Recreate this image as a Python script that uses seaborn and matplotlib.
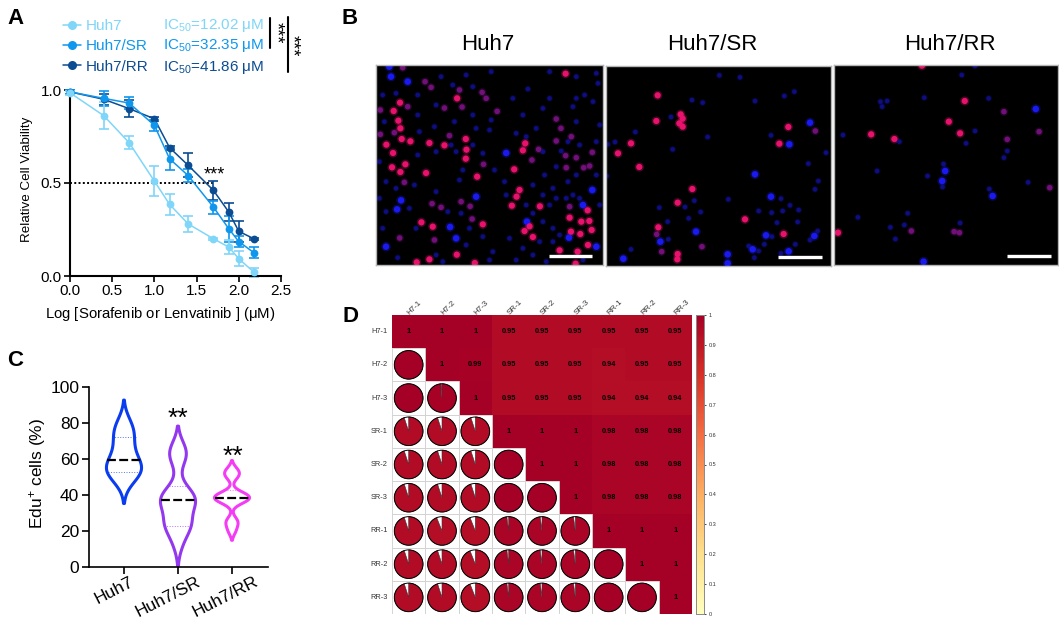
import numpy as np
import pandas as pd
import matplotlib
matplotlib.use("Agg")
import matplotlib.pyplot as plt
import seaborn as sns
from matplotlib.colors import LinearSegmentedColormap
from matplotlib.lines import Line2D
from matplotlib.patches import Wedge, Circle, Rectangle

W, H = 1059, 621
BLACK = "#000000"  # seaborn remaps "k" to a dark grey

# panel A
LINES = ["Huh7", "Huh7/SR", "Huh7/RR"]
COLORS_A = {"Huh7": "#7fd6f8", "Huh7/SR": "#0f97ee", "Huh7/RR": "#0b4c92"}
IC50 = ["12.02", "32.35", "41.86"]
log_dose = [0, 0.4, 0.7, 1.0, 1.18, 1.4, 1.7, 1.88, 2.0, 2.18]
via_huh7 = [0.985, 0.862, 0.717, 0.51, 0.385, 0.28, 0.20, 0.156, 0.093, 0.02]
via_sr = [0.99, 0.955, 0.93, 0.81, 0.63, 0.54, 0.37, 0.255, 0.185, 0.125]
via_rr = [0.99, 0.95, 0.90, 0.845, 0.69, 0.595, 0.46, 0.345, 0.24, 0.20]
err_huh7 = [0.01, 0.074, 0.035, 0.08, 0.055, 0.045, 0.005, 0.04, 0.04, 0.025]
err_sr = [0.01, 0.04, 0.03, 0.03, 0.06, 0.035, 0.035, 0.07, 0.03, 0.03]
err_rr = [0.01, 0.03, 0.045, 0.01, 0.01, 0.065, 0.05, 0.05, 0.055, 0.005]

# panel C
COLORS_C = {"Huh7": "#0a3cf0", "Huh7/SR": "#9438f0", "Huh7/RR": "#f53cf5"}
edu_huh7 = [47, 50, 52, 53, 54, 55, 56, 58, 60, 63, 66, 70, 73, 75, 78, 81]
edu_sr = [13, 21, 23, 25, 26, 35, 36, 37, 38, 39, 44, 60, 63, 66]
edu_rr = [20, 24, 26, 36, 37, 38, 38.5, 39, 40, 41, 50, 52, 54]
edu_bw = [0.55, 0.38, 0.25]
edu_median = [59.5, 37, 38.5]
edu_q1 = [53, 23, 33]
edu_q3 = [72, 45, 43]

# panel B, cell positions
CELLS = ["pink", "purple", "bright", "dim"]
CELL_COLORS = {"pink": "#e8126c", "purple": "#701078", "bright": "#1a1af0", "dim": "#0e0e80"}
CELL_SIZES = {"pink": 20, "purple": 16, "bright": 22, "dim": 11}
huh7_pink = [(72,113),(53,138),(67,167),(73,190),(77,222),(31,239),(103,229),(51,264),(88,298),(73,321),(48,307),(160,234),(150,324),(269,222),(271,254),(269,281),(205,241),(243,100),(303,335),(447,235),(440,256),(414,313),(430,375),(421,395),(407,422),(491,424),(136,472),(170,485),(568,26),(634,436),(639,468),(615,470),(580,458),(646,495),(460,484),(445,498),(470,516),(612,507),(584,500),(550,556),(604,560),(635,540),(122,592),(242,569),(296,594),(598,596),(160,583),(320,478)]
huh7_purple = [(80,8),(147,50),(165,67),(250,75),(258,126),(205,129),(95,125),(13,135),(13,208),(55,203),(318,82),(330,100),(363,139),(540,162),(554,190),(585,215),(540,228),(648,262),(568,272),(570,308),(622,308),(640,303),(467,285),(168,416),(195,427),(255,410),(282,424),(288,462),(71,519),(175,525),(322,298),(85,352),(220,212),(600,278),(487,253),(580,425)]
huh7_bright = [(40,5),(45,35),(390,264),(75,406),(63,433),(222,486),(300,395),(620,420),(648,375),(660,545),(578,518),(240,520),(452,470),(95,50),(30,545)]
huh7_dim = [(125,90),(60,85),(195,35),(230,60),(290,65),(270,30),(345,20),(410,100),(455,72),(520,20),(600,35),(660,25),(625,90),(520,100),(600,100),(665,55),(650,110),(590,125),(125,150),(180,120),(290,150),(340,195),(345,165),(440,150),(500,130),(480,190),(670,180),(600,170),(130,200),(175,185),(235,170),(300,190),(20,90),(25,170),(10,290),(125,270),(180,260),(240,260),(225,240),(290,240),(320,265),(420,205),(450,215),(500,260),(555,258),(575,230),(610,240),(660,230),(30,350),(60,370),(115,360),(180,380),(250,345),(355,315),(385,350),(260,315),(505,330),(540,305),(660,330),(600,330),(575,350),(530,370),(470,360),(390,390),(500,390),(520,420),(540,400),(570,400),(590,390),(610,400),(670,420),(450,420),(470,445),(500,470),(530,490),(550,510),(530,530),(490,530),(440,550),(400,520),(350,560),(320,515),(280,490),(255,445),(215,440),(120,490),(100,430),(30,440),(10,400),(20,490),(65,578),(180,570),(200,590),(270,540),(340,585),(420,585),(470,570),(510,590),(620,585)]
sr_pink = [(155,88),(151,165),(224,145),(230,158),(220,172),(230,182),(75,232),(36,262),(100,303),(259,369),(215,410),(157,484),(215,564),(214,580),(417,460),(533,504),(547,183),(520,233)]
sr_purple = [(152,505),(167,557),(288,542),(628,195)]
sr_bright = [(612,170),(550,235),(447,325),(163,527),(270,497),(365,565),(365,592),(548,556),(52,578),(495,392),(480,508),(440,550),(625,510)]
sr_dim = [(340,28),(402,34),(258,102),(290,110),(447,105),(535,90),(565,77),(195,153),(88,198),(27,228),(5,235),(305,213),(200,250),(495,208),(660,260),(607,293),(2,330),(637,345),(627,370),(367,400),(265,404),(160,425),(237,423),(284,438),(248,457),(185,467),(187,520),(75,550),(458,435),(525,398),(552,418),(530,435),(497,440),(578,432),(575,468),(513,470),(498,512),(475,535),(428,540),(458,555),(445,575),(525,562),(568,535),(612,522),(635,495)]
rr_pink = [(112,208),(182,222),(346,170),(380,205),(394,108),(12,503),(265,2)]
rr_purple = [(512,140),(522,223),(233,498),(362,500),(378,503),(618,200),(650,368)]
rr_bright = [(335,318),(326,348),(608,132),(478,393),(270,590)]
rr_dim = [(140,110),(160,108),(145,125),(272,98),(466,100),(385,30),(425,3),(27,210),(197,230),(398,235),(425,198),(522,258),(512,278),(330,297),(130,318),(282,333),(327,366),(468,372),(72,457),(222,445),(212,480),(170,487),(185,522),(380,474),(585,352)]

# panel D
SAMPLES = ["H7-1", "H7-2", "H7-3", "SR-1", "SR-2", "SR-3", "RR-1", "RR-2", "RR-3"]
corr_rows = [
    [1, 1, 1, 0.95, 0.95, 0.95, 0.95, 0.95, 0.95],
    [1, 1, 0.99, 0.95, 0.95, 0.95, 0.94, 0.95, 0.95],
    [1, 0.99, 1, 0.95, 0.95, 0.95, 0.94, 0.94, 0.94],
    [0.95, 0.95, 0.95, 1, 1, 1, 0.98, 0.98, 0.98],
    [0.95, 0.95, 0.95, 1, 1, 1, 0.98, 0.98, 0.98],
    [0.95, 0.95, 0.95, 1, 1, 1, 0.98, 0.98, 0.98],
    [0.95, 0.94, 0.94, 0.98, 0.98, 0.98, 1, 1, 1],
    [0.95, 0.95, 0.94, 0.98, 0.98, 0.98, 1, 1, 1],
    [0.95, 0.95, 0.94, 0.98, 0.98, 0.98, 1, 1, 1],
]


def px_axes(left, top, right, bottom):
    return fig.add_axes([left / W, 1 - bottom / H, (right - left) / W, (bottom - top) / H])


def px_text(x, y, s, **kw):
    kw.setdefault("ha", "center")
    kw.setdefault("va", "center")
    return fig.text(x / W, 1 - y / H, s, **kw)


def px_line(x0, y0, x1, y1, lw=1.5, color=BLACK):
    fig.add_artist(Line2D([x0 / W, x1 / W], [1 - y0 / H, 1 - y1 / H], lw=lw, color=color))


sns.set_theme(style="ticks")
plt.rcParams["font.family"] = ["Liberation Sans", "DejaVu Sans"]
plt.rcParams["mathtext.fontset"] = "custom"
plt.rcParams["mathtext.rm"] = "Liberation Sans"
plt.rcParams["mathtext.default"] = "regular"
plt.rcParams["axes.edgecolor"] = BLACK
plt.rcParams["xtick.color"] = BLACK
plt.rcParams["ytick.color"] = BLACK
plt.rcParams["text.color"] = BLACK
plt.rcParams["axes.labelcolor"] = BLACK

fig = plt.figure(figsize=(W / 100, H / 100), dpi=100, facecolor="white")

for letter, x, y in [("A", 15, 18), ("B", 350, 18), ("C", 15, 360), ("D", 350, 316)]:
    px_text(x, y, letter, fontsize=16, fontweight="bold")

# A: dose response
ax = px_axes(70, 90, 281, 276)
df_a = pd.DataFrame({
    "dose": log_dose * 3,
    "viability": via_huh7 + via_sr + via_rr,
    "line": [l for l in LINES for _ in log_dose],
})
errs = {"Huh7": err_huh7, "Huh7/SR": err_sr, "Huh7/RR": err_rr}
vals = {"Huh7": via_huh7, "Huh7/SR": via_sr, "Huh7/RR": via_rr}
ax.plot([0, 1.69], [0.5, 0.5], color=BLACK, ls=(0, (1, 1.2)), lw=1.4, zorder=1)
for line in LINES[::-1]:
    ax.errorbar(log_dose, vals[line], yerr=errs[line], fmt="none", ecolor=COLORS_A[line],
                elinewidth=1.2, capsize=3.6, capthick=1.2, clip_on=False, zorder=2)
sns.lineplot(data=df_a, x="dose", y="viability", hue="line", hue_order=LINES[::-1],
             palette=COLORS_A, marker="o", markersize=5.6, markeredgewidth=0, lw=1.1,
             errorbar=None, legend=False, clip_on=False, zorder=3, ax=ax)
ax.set_xlim(0, 2.5)
ax.set_ylim(0, 1)
ax.set_xticks([0, 0.5, 1, 1.5, 2, 2.5])
ax.set_yticks([0, 0.5, 1])
ax.set_xticklabels(["0.0", "0.5", "1.0", "1.5", "2.0", "2.5"])
ax.set_yticklabels(["0.0", "0.5", "1.0"])
ax.tick_params(labelsize=11, width=1.2, length=4, pad=2)
ax.set_xlabel("")
ax.set_ylabel("")
ax.patch.set_alpha(0)
for side in ["left", "bottom"]:
    ax.spines[side].set_linewidth(1.5)
sns.despine(ax=ax)
px_text(160, 314, "Log [Sorafenib or Lenvatinib ] ($\\mu$M)", fontsize=10.7)
px_text(27, 179, "Relative Cell Viability", fontsize=9.6, rotation=90)
px_text(214, 175, "***", fontsize=13)

handles = [Line2D([], [], color=COLORS_A[l], marker="o", markersize=6.5, markeredgewidth=0, lw=1.1)
           for l in LINES]
ax.legend(handles, LINES, loc="upper left", bbox_to_anchor=(63 / W, 1 - 19 / H),
          bbox_transform=fig.transFigure, frameon=False, fontsize=11, labelcolor="linecolor",
          borderpad=0, borderaxespad=0, labelspacing=0.42, handlelength=1.2, handletextpad=0.3)
for line, val, y in zip(LINES, IC50, [25, 46, 67]):
    px_text(163, y, f"IC$_{{50}}$={val} $\\mu$M", fontsize=11, ha="left", color=COLORS_A[line])
px_line(270, 18, 270, 48)
px_line(287.5, 17, 287.5, 72)
px_text(276, 33, "***", fontsize=13, rotation=-90)
px_text(292, 46, "***", fontsize=13, rotation=-90)

# B: microscopy fields
fields = [
    ("Huh7", (376, 65, 603, 265), (0, 680), (0, 600), (517, 648), [huh7_pink, huh7_purple, huh7_bright, huh7_dim], 488),
    ("Huh7/SR", (606, 66, 831, 266), (0, 675), (0, 600), (517, 648), [sr_pink, sr_purple, sr_bright, sr_dim], 712),
    ("Huh7/RR", (834, 65, 1058, 265), (0, 675), (0, 600), (522, 653), [rr_pink, rr_purple, rr_bright, rr_dim], 950),
]
for title, box, xlim, ylim, bar, groups, tx in fields:
    ax = px_axes(*box)
    ax.set_facecolor(BLACK)
    rows = []
    for cell, pts in zip(CELLS, groups):
        rows += [{"x": p[0], "y": p[1], "cell": cell} for p in pts]
    df_b = pd.DataFrame(rows).iloc[::-1]
    # pink goes last so it sits on top of blue, wide faint pass gives the soft edge
    sizes_halo = {k: v * 2.2 for k, v in CELL_SIZES.items()}
    for sizes, alpha in [(sizes_halo, 0.3), (CELL_SIZES, 1)]:
        sns.scatterplot(data=df_b, x="x", y="y", hue="cell", hue_order=CELLS, palette=CELL_COLORS,
                        size="cell", sizes=sizes, alpha=alpha, linewidth=0, legend=False, ax=ax)
    ax.plot(bar, [572, 572], color="white", lw=2.4, solid_capstyle="butt")
    ax.set_xlim(*xlim)
    ax.set_ylim(ylim[1], ylim[0])
    ax.set_xticks([])
    ax.set_yticks([])
    ax.set_xlabel("")
    ax.set_ylabel("")
    for s in ax.spines.values():
        s.set_color("#b5b5b5")
        s.set_linewidth(1)
    px_text(tx, 44, title, fontsize=16)

# C: violins, one call per line so each gets its own bandwidth
df_c = pd.DataFrame({
    "line": ["Huh7"] * len(edu_huh7) + ["Huh7/SR"] * len(edu_sr) + ["Huh7/RR"] * len(edu_rr),
    "edu": edu_huh7 + edu_sr + edu_rr,
})
ax = px_axes(89, 387, 268, 567)
for line, bw in zip(LINES, edu_bw):
    sns.violinplot(data=df_c[df_c["line"] == line], x="line", y="edu", hue="line", order=LINES,
                   hue_order=LINES, palette=COLORS_C, fill=False, inner=None, linewidth=2.2,
                   width=0.65, saturation=1, bw_method=bw, density_norm="width", legend=False, ax=ax)
half_q1 = [0.3, 0.25, 0.1]
half_q3 = [0.22, 0.17, 0.1]
half_med = [0.31, 0.31, 0.31]
for i, line in enumerate(LINES):
    ax.plot([i - half_q1[i], i + half_q1[i]], [edu_q1[i]] * 2, color=COLORS_C[line], lw=0.7, ls=":", alpha=0.7)
    ax.plot([i - half_q3[i], i + half_q3[i]], [edu_q3[i]] * 2, color=COLORS_C[line], lw=0.7, ls=":", alpha=0.7)
    ax.plot([i - half_med[i], i + half_med[i]], [edu_median[i]] * 2, color=BLACK, lw=1.6, ls=(0, (4, 1.5)))
ax.set_xlim(-0.648, 2.667)
ax.set_ylim(0, 100)
ax.set_yticks([0, 20, 40, 60, 80, 100])
ax.tick_params(axis="y", labelsize=12.5, width=1.2, length=5, pad=2)
ax.tick_params(axis="x", labelsize=12.5, width=1.2, length=5, pad=1)
ax.set_xticks([0, 1, 2])
ax.set_xticklabels([])
ax.set_xlabel("")
ax.set_ylabel("")
ax.patch.set_alpha(0)
for side in ["left", "bottom"]:
    ax.spines[side].set_linewidth(1.2)
sns.despine(ax=ax)
for x, y, s in [(133, 581, "Huh7"), (200, 581, "Huh7/SR"), (257, 581, "Huh7/RR")]:
    px_text(x, y, s, fontsize=12.5, rotation=27, ha="right", va="center", rotation_mode="anchor")
px_text(38, 473, "Edu$^{+}$ cells (%)", fontsize=12.5, rotation=90)
px_text(178, 419, "**", fontsize=19)
px_text(233, 457, "**", fontsize=19)

# D: correlation matrix
corr = pd.DataFrame(corr_rows, index=SAMPLES, columns=SAMPLES)
cmap = LinearSegmentedColormap.from_list("ylred", ["#ffffbf", "#fee08b", "#fdae61", "#f46d43", "#d73027", "#a50026"])
mask = np.tril(np.ones(corr.shape, dtype=bool), k=-1)
labels = corr.map(lambda v: f"{v:g}")
ax = px_axes(392, 315, 692, 614)
cax = px_axes(696, 315, 704, 614)
sns.heatmap(corr, mask=mask, annot=labels, fmt="", cmap=cmap, vmin=0, vmax=1, cbar_ax=cax,
            annot_kws={"color": BLACK, "fontsize": 5.3, "fontweight": "bold"}, ax=ax)
for i in range(len(SAMPLES)):
    for j in range(i):
        v = corr.iloc[i, j]
        cx, cy = j + 0.5, i + 0.5
        ax.add_patch(Rectangle((j, i), 1, 1, fc="white", ec="#cfcfcf", lw=0.6))
        # y axis is inverted here so -90 is twelve o'clock and angles run clockwise
        ax.add_patch(Wedge((cx, cy), 0.43, -90, -90 + 360 * v, fc=cmap(v), ec="#333333", lw=0.4))
        ax.add_patch(Circle((cx, cy), 0.43, fc="none", ec=BLACK, lw=0.7))
ax.xaxis.tick_top()
ax.set_xticks(np.arange(9) + 0.5)
ax.set_xticklabels(SAMPLES, rotation=45, ha="left", va="center", rotation_mode="anchor", fontsize=5.8, color="#333333")
ax.set_yticklabels(SAMPLES, rotation=0, fontsize=5.3, color="#333333")
ax.tick_params(length=0, pad=3)
ax.tick_params(axis="x", pad=1)
cax.set_yticks(np.arange(0, 1.01, 0.1))
cax.set_yticklabels([f"{t:g}" for t in np.round(np.arange(0, 1.01, 0.1), 1)], fontsize=4, color="#333333")
cax.tick_params(length=1.5, width=0.5, pad=2)
for s in cax.spines.values():
    s.set_visible(True)
    s.set_color("#8a8a8a")
    s.set_linewidth(0.6)

fig.savefig("out.png", dpi=100)
